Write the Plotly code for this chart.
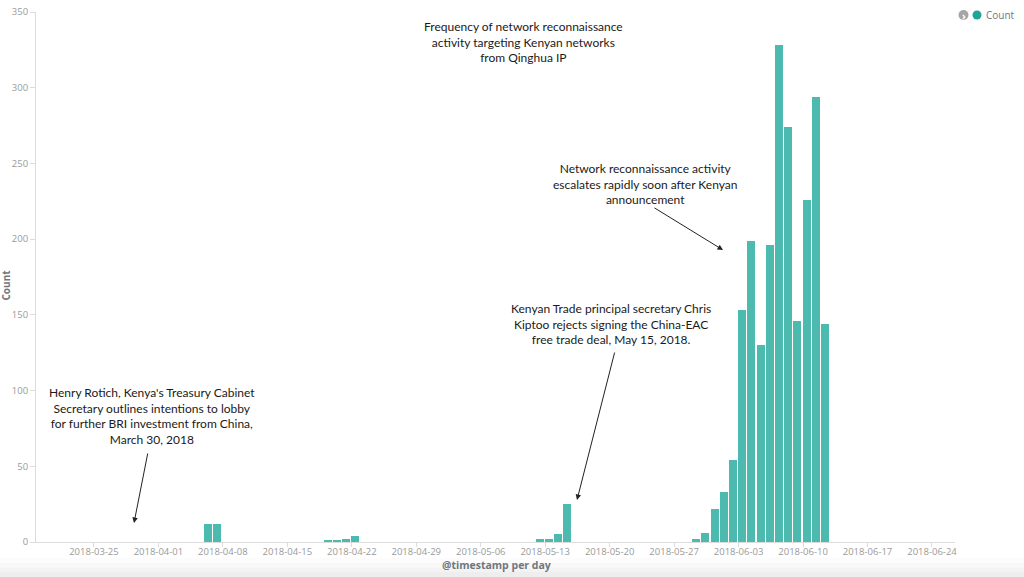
import plotly.graph_objects as go
import pandas as pd

# ---- data ----
dates = [
    "2018-04-06", "2018-04-07",
    "2018-04-19", "2018-04-20", "2018-04-21", "2018-04-22",
    "2018-05-12", "2018-05-13", "2018-05-14", "2018-05-15",
    "2018-05-29", "2018-05-30", "2018-05-31", "2018-06-01", "2018-06-02",
    "2018-06-03", "2018-06-04", "2018-06-05", "2018-06-06", "2018-06-07",
    "2018-06-08", "2018-06-09", "2018-06-10", "2018-06-11", "2018-06-12",
]
counts = [
    12, 12,
    1, 1, 2, 4,
    2, 2, 5, 25,
    2, 6, 22, 33, 54,
    153, 199, 130, 196, 328,
    274, 146, 226, 294, 144,
]
series_name = "Count"
title_text = "Frequency of network reconnaissance<br>activity targeting Kenyan networks<br>from Qinghua IP"
note_rotich = ("Henry Rotich, Kenya's Treasury Cabinet<br>Secretary outlines intentions to lobby<br>"
               "for further BRI investment from China,<br>March 30, 2018")
note_kiptoo = ("Kenyan Trade principal secretary Chris<br>Kiptoo rejects signing the China-EAC<br>"
               "free trade deal, May 15, 2018.")
note_escalate = "Network reconnaissance activity<br>escalates rapidly soon after Kenyan<br>announcement"

# ---- layout geometry (pixels) ----
W, H = 1024, 577
L, R, T, B = 36, 955, 12, 542
BAR = "#4dbab0"
DAY_MS = 24 * 3600 * 1000


def px(x):
    return (x - L) / (R - L)


def py(y):
    return (B - y) / (B - T)


fig = go.Figure()
fig.add_trace(go.Bar(
    x=pd.to_datetime(dates), y=counts, name=series_name,
    marker=dict(color=BAR, line=dict(width=0)),
    width=0.87 * DAY_MS, offset=-1 * 3600 * 1000,
    showlegend=False, hoverinfo="x+y",
))

text_font = dict(family="Lato, 'Open Sans', sans-serif", size=12, color="#1a1a1a")
anns = []
for txt, cx, cy in [
    (title_text, 523, 41.5),
    (note_rotich, 152, 416),
    (note_kiptoo, 611, 324),
    (note_escalate, 645, 184),
]:
    anns.append(dict(text=txt, x=px(cx), y=py(cy), xref="paper", yref="paper",
                     showarrow=False, xanchor="center", yanchor="middle",
                     align="center", font=text_font))

for (x0, y0, x1, y1) in [(148, 452, 134, 523), (615, 351, 577, 500), (653, 207, 723, 250)]:
    anns.append(dict(text="", x=px(x1), y=py(y1), xref="paper", yref="paper",
                     ax=x0 - x1, ay=y0 - y1, axref="pixel", ayref="pixel",
                     showarrow=True, arrowhead=2, arrowsize=1.1, arrowwidth=1,
                     arrowcolor="#222", standoff=0, startstandoff=0))

# axis titles
anns.append(dict(text="<b>Count</b>", x=px(5.5), y=py(285), xref="paper", yref="paper",
                 showarrow=False, textangle=-90, xanchor="center", yanchor="middle",
                 font=dict(family="'Open Sans', sans-serif", size=10, color="#6f7680")))
anns.append(dict(text="<b>@timestamp per day</b>", x=px(497), y=py(564.5), xref="paper", yref="paper",
                 showarrow=False, xanchor="center", yanchor="middle",
                 font=dict(family="'Open Sans', sans-serif", size=10.5, color="#6f7680")))
# legend text
anns.append(dict(text=series_name, x=px(984), y=py(15), xref="paper", yref="paper",
                 showarrow=False, xanchor="left", yanchor="middle",
                 font=dict(family="'Open Sans', sans-serif", size=10, color="#6f7680")))
anns.append(dict(text="<b>›</b>", x=px(963.5), y=py(15.5), xref="paper", yref="paper",
                 showarrow=False, xanchor="center", yanchor="middle",
                 font=dict(family="'Open Sans', sans-serif", size=10, color="white")))

shapes = []
# bottom window shading
for y0, y1, c in [(558, 563, "#fcfcfc"), (563, 568, "#f8f8f8"), (568, 572, "#f3f3f3"), (572, 578, "#eeeeee")]:
    shapes.append(dict(type="rect", xref="paper", yref="paper", x0=px(0), x1=px(W),
                       y0=py(y1), y1=py(y0), fillcolor=c, line=dict(width=0), layer="below"))
# legend dot and collapse icon
shapes.append(dict(type="circle", xref="paper", yref="paper", xsizemode="pixel", ysizemode="pixel",
                   xanchor=px(977), yanchor=py(15), x0=-4.5, x1=4.5, y0=-4.5, y1=4.5,
                   fillcolor="#1ea59a", line=dict(width=0)))
shapes.append(dict(type="circle", xref="paper", yref="paper", xsizemode="pixel", ysizemode="pixel",
                   xanchor=px(963.5), yanchor=py(15), x0=-5, x1=5, y0=-5, y1=5,
                   fillcolor="#a5a5a5", line=dict(width=0)))

axis_font = dict(family="'Open Sans', sans-serif", size=9.5, color="#9a9a9a")
fig.update_layout(
    width=W, height=H,
    margin=dict(l=L, r=W - R, t=T, b=H - B, autoexpand=False),
    paper_bgcolor="white", plot_bgcolor="white",
    bargap=0,
    annotations=anns, shapes=shapes,
    xaxis=dict(
        type="date",
        range=["2018-03-18 17:00", "2018-06-26 12:00"],
        tick0="2018-03-25", dtick=7 * DAY_MS, tickformat="%Y-%m-%d",
        showgrid=False, zeroline=False,
        showline=True, linecolor="#dcdcdc", linewidth=1,
        ticks="outside", ticklen=4, tickcolor="#dcdcdc",
        ticklabelstandoff=-3, automargin=False,
        tickfont=axis_font, fixedrange=True,
    ),
    yaxis=dict(
        range=[0, 350], tick0=0, dtick=50,
        showgrid=False, zeroline=False,
        showline=True, linecolor="#dcdcdc", linewidth=1,
        ticks="outside", ticklen=5, tickcolor="#dcdcdc", automargin=False,
        tickfont=axis_font, fixedrange=True,
    ),
)

fig.write_html("out.html", config={"displayModeBar": False},
               post_script="document.body.style.margin='0';document.body.style.overflow='hidden';")
